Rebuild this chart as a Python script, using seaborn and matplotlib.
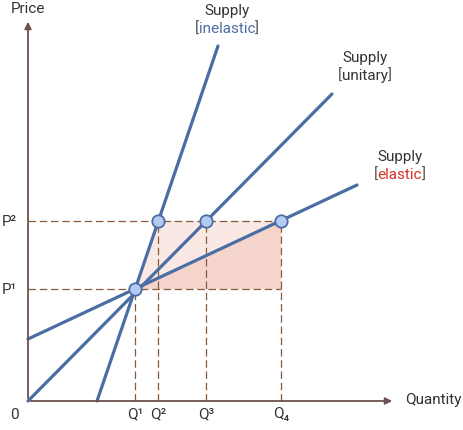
import matplotlib
matplotlib.use("Agg")
import matplotlib.pyplot as plt
import numpy as np
import pandas as pd
import seaborn as sns

# data (pixel-like units from the origin)
q1, p1 = 107, 112
p2 = 180
q_marks = [107, 130, 178, 253]
q_labels = ["Q¹", "Q²", "Q³", "Q₄"]
p_marks = [112, 180]
p_labels = ["P¹", "P²"]
inelastic_x = [69, 190]
inelastic_y = [0, 355]
unitary_x = [0, 304]
unitary_y = [0, 307]
elastic_x = [0, 329]
elastic_y = [62, 216]
point_x = [107, 130, 178, 253]
point_y = [112, 180, 180, 180]

sns.set_style("white")
plt.rcParams["font.family"] = ["Roboto", "DejaVu Sans"]

line_c = "#4a6da3"
dash_c = "#8a5a3c"
axis_c = "#6e5050"

fig = plt.figure(figsize=(4.63, 4.31), dpi=100)
ax = fig.add_axes([0, 0, 1, 1])
ax.set_xlim(-28, 435)
ax.set_ylim(-29, 402)
ax.axis("off")

# shaded areas
ax.fill([q1, 130, 253, 253], [p1, p2, p2, p1], color="#f6d9d2", alpha=0.6, lw=0)
ax.fill([q1, 253, 253], [p1, p2, p1], color="#f4cfc6", alpha=0.8, lw=0)

# dashed guides
for x, y in zip(point_x, point_y):
    ax.plot([x, x], [0, y], ls=(0, (6, 3)), color=dash_c, lw=0.9)
ax.plot([0, 253], [p2, p2], ls=(0, (6, 3)), color=dash_c, lw=0.9)
ax.plot([0, 253], [p1, p1], ls=(0, (6, 3)), color=dash_c, lw=0.9)

# supply lines
for xs, ys in [(inelastic_x, inelastic_y), (unitary_x, unitary_y), (elastic_x, elastic_y)]:
    sns.lineplot(x=xs, y=ys, ax=ax, color=line_c, lw=2.3)

sns.scatterplot(x=point_x, y=point_y, ax=ax, s=80, color="#b3cbf2",
                edgecolor=line_c, linewidth=1.3, zorder=5)

# axes arrows
ax.annotate("", xy=(367, 0), xytext=(0, 0),
            arrowprops=dict(arrowstyle="-|>", color=axis_c, lw=1.3))
ax.annotate("", xy=(0, 382), xytext=(0, 0),
            arrowprops=dict(arrowstyle="-|>", color=axis_c, lw=1.3))

fs = 11
ax.text(0, 386, "Price", fontsize=fs, ha="center", va="bottom", color="#333")
ax.text(377, 2, "Quantity", fontsize=fs, ha="left", va="center", color="#333")
ax.text(-14, -13, "0", fontsize=fs, ha="center", va="center", color="#333")
for x, lab in zip(q_marks, q_labels):
    ax.text(x, -12, lab, fontsize=fs, ha="center", va="center", color="#333")
for y, lab in zip(p_marks, p_labels):
    ax.text(-19, y, lab, fontsize=fs, ha="center", va="center", color="#333")

renderer = fig.canvas.get_renderer()
inv = ax.transData.inverted()


def supply_label(x, y, word, col):
    ax.text(x, y + 11, "Supply", fontsize=fs, ha="center", va="center", color="#333")
    t = ax.text(x, y - 7, word, fontsize=fs, ha="center", va="center", color=col)
    bb = t.get_window_extent(renderer)
    x0 = inv.transform((bb.x0, bb.y0))[0]
    x1 = inv.transform((bb.x1, bb.y0))[0]
    ax.text(x0, y - 7, "[", fontsize=fs, ha="right", va="center", color="#555")
    ax.text(x1, y - 7, "]", fontsize=fs, ha="left", va="center", color="#555")


supply_label(199, 380, "inelastic", "#4a6da3")
supply_label(337, 333, "unitary", "#333333")
supply_label(372, 234, "elastic", "#d8312a")

fig.savefig("out.png", dpi=100)
